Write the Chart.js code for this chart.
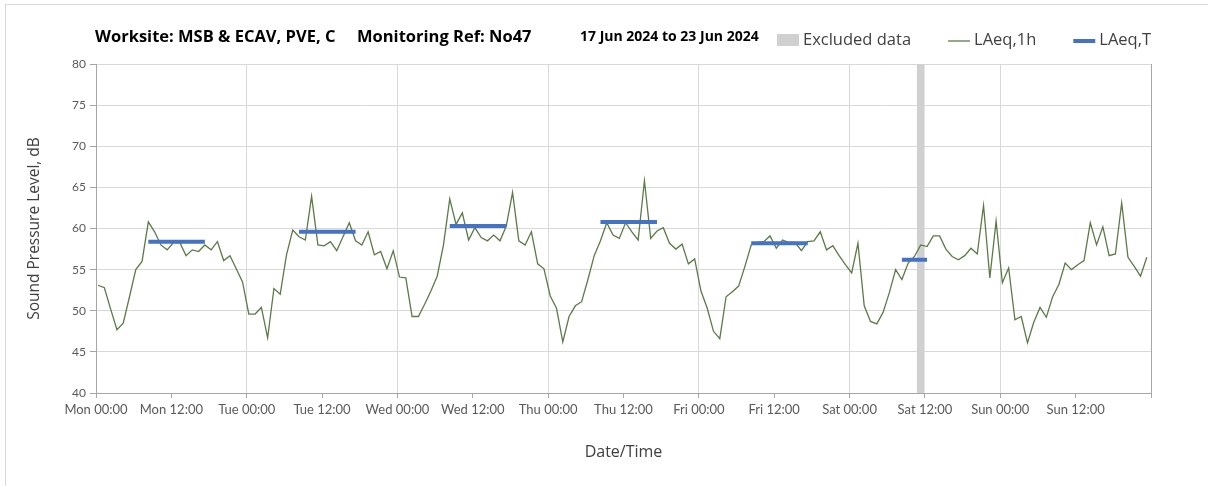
<!DOCTYPE html>
<html>
<head>
<meta charset="utf-8">
<script src="https://cdn.jsdelivr.net/npm/chart.js@4.4.1/dist/chart.umd.min.js"></script>
<style>
  body { margin: 0; background: #fff; }
  #wrap { position: relative; width: 1208px; height: 486px; overflow: hidden; }
  #frame { position: absolute; left: 5px; top: 4px; width: 1300px; height: 600px; border: 1px solid #d9d9d9; }
  canvas { position: absolute; left: 0; top: 0; }
</style>
</head>
<body>
<div id="wrap">
  <div id="frame"></div>
  <canvas id="noiseChart" width="1208" height="486"></canvas>
</div>
<script>
// hourly LAeq,1h readings, Mon 00:00 .. Sun 23:00
const laeq1h = [
  53.1, 52.8, 50.2, 47.7, 48.5, 51.7, 55.0, 56.0, 60.8, 59.6, 58.0, 57.4,
  58.3, 58.3, 56.7, 57.4, 57.2, 58.0, 57.4, 58.4, 56.1, 56.7, 55.1, 53.5,
  49.6, 49.6, 50.4, 46.7, 52.7, 52.0, 56.8, 59.8, 59.0, 58.6, 63.9, 58.0,
  57.9, 58.4, 57.3, 59.0, 60.7, 58.5, 58.0, 59.6, 56.8, 57.2, 55.1, 57.3,
  54.1, 54.0, 49.3, 49.3, 50.8, 52.4, 54.2, 58.0, 63.6, 60.5, 61.9, 58.6,
  60.1, 58.9, 58.5, 59.2, 58.5, 60.3, 64.4, 58.5, 58.0, 59.6, 55.7, 55.1,
  51.8, 50.3, 46.2, 49.3, 50.6, 51.1, 53.8, 56.7, 58.5, 60.7, 59.2, 58.8,
  60.7, 59.6, 58.6, 65.8, 58.8, 59.7, 60.1, 58.2, 57.5, 58.1, 55.7, 56.3,
  52.4, 50.3, 47.5, 46.6, 51.7, 52.3, 53.0, 55.4, 58.0, 58.3, 58.4, 59.1,
  57.6, 58.6, 58.3, 58.3, 57.3, 58.4, 58.5, 59.6, 57.4, 57.9, 56.7, 55.6,
  54.6, 58.2, 50.6, 48.7, 48.4, 49.8, 52.2, 55.0, 53.8, 55.8, 56.6, 58.0,
  57.8, 59.1, 59.1, 57.5, 56.6, 56.2, 56.7, 57.6, 56.9, 62.8, 54.0, 60.9,
  53.4, 55.2, 48.9, 49.3, 46.1, 48.6, 50.4, 49.2, 51.7, 53.2, 55.8, 55.0,
  55.6, 56.1, 60.7, 58.0, 60.2, 56.7, 56.9, 63.1, 56.5, 55.4, 54.2, 56.5
];

// LAeq,T periods (hour index from Mon 00:00)
const periodStart = [8, 32, 56, 80, 104, 128];
const periodEnd = [17, 41, 65, 89, 113, 132];
const periodLevel = [58.4, 59.6, 60.3, 60.8, 58.2, 56.2];

const excludedHours = [131];

const dayNames = ['Mon', 'Tue', 'Wed', 'Thu', 'Fri', 'Sat', 'Sun'];
const yMin = 40, yMax = 80, yStep = 5;
const titleParts = ['Worksite: MSB & ECAV, PVE, C', 'Monitoring Ref: No47', '17 Jun 2024 to 23 Jun 2024'];

// readings are logged 20 min past the hour
const readingOffset = 20 / 60;

const greenCol = '#5b7a47';
const blueCol = '#4472c4';
const greyCol = '#d0d0d0';

const lineData = laeq1h.map((v, i) => ({ x: i + readingOffset, y: v }));

const periodData = [];
periodStart.forEach((s, i) => {
  periodData.push({ x: s + readingOffset, y: periodLevel[i] });
  periodData.push({ x: periodEnd[i] + readingOffset, y: periodLevel[i] });
  periodData.push({ x: periodEnd[i] + readingOffset, y: null });
});

const excludedData = excludedHours.map(h => ({ x: h + readingOffset, y: yMax }));

// title + legend share the top row, so draw them here
const topRow = {
  id: 'topRow',
  afterDraw(chart) {
    const ctx = chart.ctx;
    const midY = 40;
    ctx.save();
    ctx.textBaseline = 'middle';
    ctx.fillStyle = '#000';
    const tx = [95, 357, 580];
    const ts = [16.5, 16.5, 14];
    titleParts.forEach((t, i) => {
      ctx.font = 'bold ' + ts[i] + 'px "Open Sans"';
      ctx.fillText(t, tx[i], midY - 3);
    });

    ctx.font = '16.5px "Open Sans"';
    let x = 777;
    const items = [
      { text: 'Excluded data', kind: 'box', color: greyCol },
      { text: 'LAeq,1h', kind: 'line', color: greenCol, w: 1.3 },
      { text: 'LAeq,T', kind: 'line', color: blueCol, w: 4 }
    ];
    items.forEach(it => {
      if (it.kind === 'box') {
        ctx.fillStyle = it.color;
        ctx.fillRect(x, midY - 6, 22, 12);
      } else {
        ctx.strokeStyle = it.color;
        ctx.lineWidth = it.w;
        ctx.beginPath();
        ctx.moveTo(x, midY + 1);
        ctx.lineTo(x + 22, midY + 1);
        ctx.stroke();
      }
      ctx.fillStyle = '#404040';
      ctx.fillText(it.text, x + 26, midY);
      x += 26 + ctx.measureText(it.text).width + 37;
    });
    ctx.restore();
  }
};

new Chart(document.getElementById('noiseChart'), {
  type: 'line',
  data: {
    datasets: [
      {
        label: 'LAeq,T',
        data: periodData,
        borderColor: blueCol,
        borderWidth: 4,
        pointRadius: 0,
        spanGaps: false,
        order: 1
      },
      {
        label: 'LAeq,1h',
        data: lineData,
        borderColor: greenCol,
        borderWidth: 1.3,
        pointRadius: 0,
        tension: 0,
        order: 2
      },
      {
        type: 'bar',
        label: 'Excluded data',
        data: excludedData,
        backgroundColor: greyCol,
        barThickness: 7,
        order: 3
      }
    ]
  },
  options: {
    responsive: false,
    animation: false,
    layout: { padding: { top: 64, left: 8, right: 57, bottom: 8 } },
    plugins: {
      legend: { display: false },
      tooltip: { enabled: false }
    },
    scales: {
      x: {
        type: 'linear',
        min: 0,
        max: 168,
        offset: false,
        afterFit: s => { s.height = 85; },
        ticks: {
          stepSize: 12,
          autoSkip: false,
          maxRotation: 0,
          padding: 4,
          color: '#595959',
          font: { family: 'Lato', size: 13 },
          callback: v => (v < 168 ? dayNames[Math.floor(v / 24)] + ' ' + (v % 24 === 0 ? '00:00' : '12:00') : '')
        },
        grid: {
          offset: false,
          tickLength: 5,
          tickColor: '#a6a6a6',
          color: c => {
            const v = c.tick ? c.tick.value : 0;
            if (v === 168) return '#a6a6a6';
            return v % 24 === 0 ? '#d9d9d9' : 'rgba(0,0,0,0)';
          }
        },
        border: { color: '#a6a6a6' },
        title: {
          display: true,
          text: 'Date/Time',
          color: '#404040',
          font: { family: 'Open Sans', size: 16 },
          padding: { top: 0, bottom: 16 }
        }
      },
      y: {
        min: yMin,
        max: yMax,
        afterFit: s => { s.width = 88; },
        ticks: {
          stepSize: yStep,
          padding: 4,
          color: '#595959',
          font: { family: 'Lato', size: 12 }
        },
        grid: { color: '#d9d9d9', tickLength: 6, tickColor: '#a6a6a6' },
        border: { color: '#a6a6a6' },
        title: {
          display: true,
          text: 'Sound Pressure Level, dB',
          color: '#404040',
          font: { family: 'Open Sans', size: 15.5 },
          padding: { top: 17, bottom: 0 }
        }
      }
    }
  },
  plugins: [topRow]
});
</script>
</body>
</html>
